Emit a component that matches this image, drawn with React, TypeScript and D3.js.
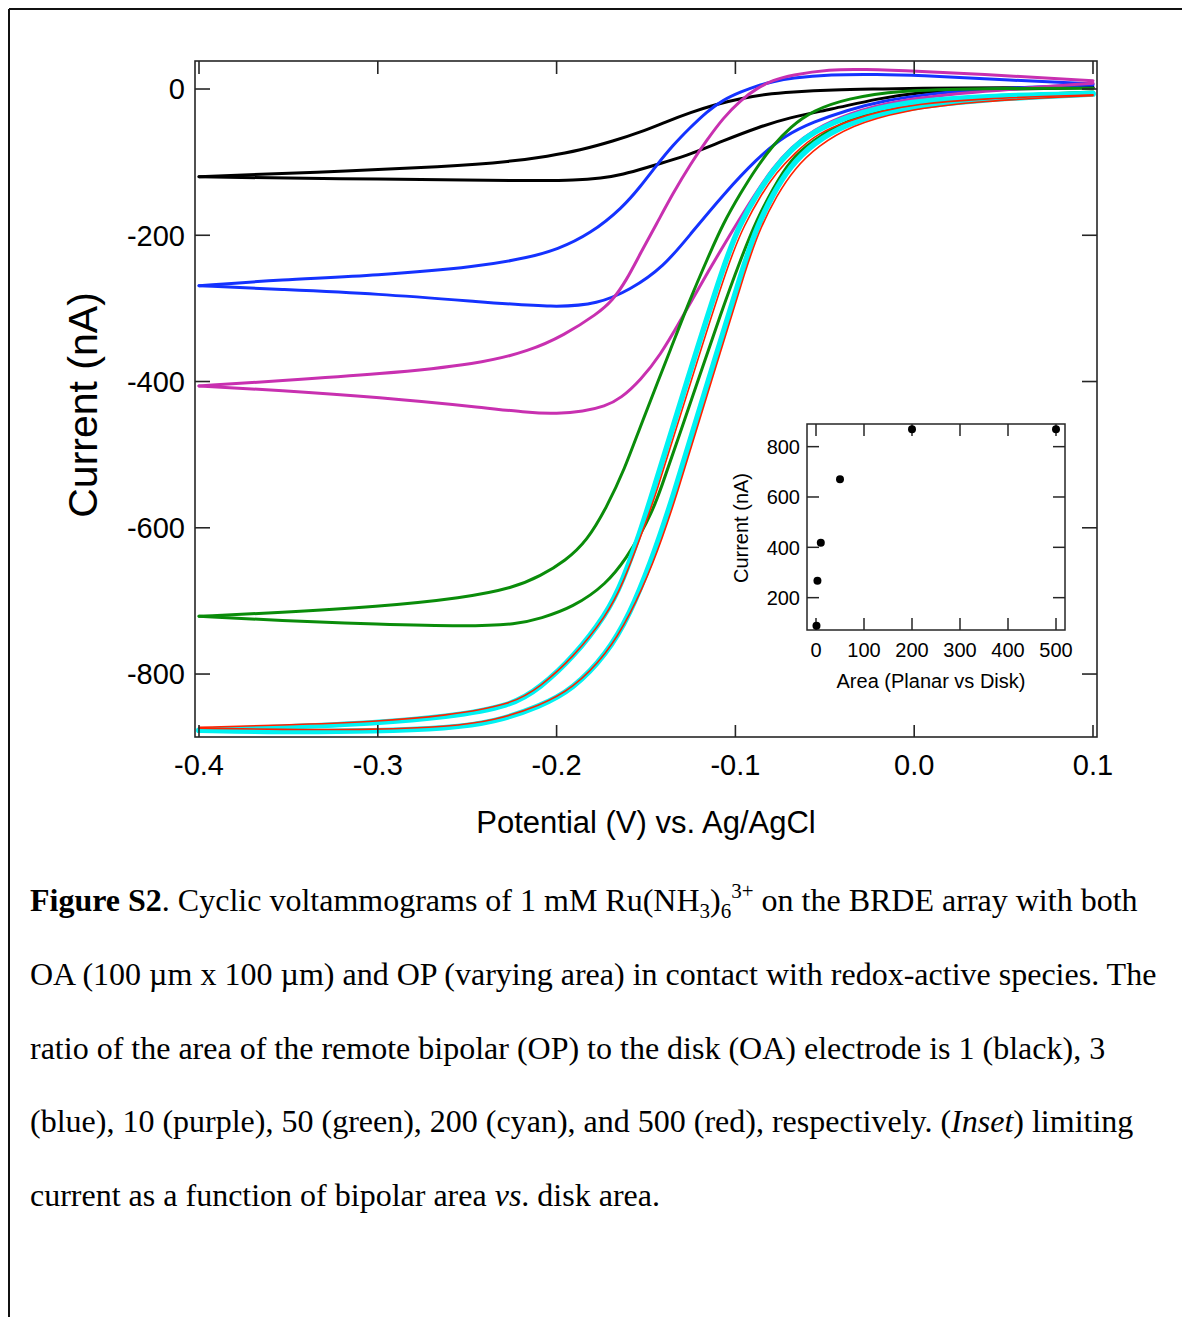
import React from "react";
import * as d3 from "d3";

type Pt = [number, number];

// ---- main axes ----
const potentialTicks = [-0.4, -0.3, -0.2, -0.1, 0.0, 0.1];
const potentialTickLabels = ["-0.4", "-0.3", "-0.2", "-0.1", "0.0", "0.1"];
const currentTicks = [0, -200, -400, -600, -800];
const currentTickLabels = ["0", "-200", "-400", "-600", "-800"];

// ---- CV branches: [potential (V), current (nA)] ----
const blackUpper: Pt[] = [
  [-0.4, -120], [-0.336, -114], [-0.26, -106], [-0.225, -99], [-0.205, -92], [-0.187, -84],
  [-0.168, -71], [-0.153, -59], [-0.139, -45], [-0.125, -32], [-0.111, -21], [-0.097, -13],
  [-0.083, -7], [-0.069, -4], [-0.045, -1], [-0.02, 0], [0, 1], [0.05, 2], [0.1, 2],
];
const blackLower: Pt[] = [
  [-0.4, -120], [-0.35, -122], [-0.3, -123], [-0.25, -124.5], [-0.21, -125.5], [-0.19, -125],
  [-0.175, -122], [-0.163, -117], [-0.149, -107], [-0.138, -99], [-0.125, -89], [-0.107, -71],
  [-0.088, -53], [-0.07, -39], [-0.047, -28], [-0.02, -13], [0, -5], [0.03, -1], [0.1, 2],
];
const blueUpper: Pt[] = [
  [-0.4, -269], [-0.355, -261], [-0.3, -255], [-0.243, -243], [-0.215, -230], [-0.2, -220],
  [-0.181, -198], [-0.163, -162], [-0.153, -133], [-0.144, -104], [-0.135, -77], [-0.125, -52],
  [-0.116, -31], [-0.107, -15], [-0.097, -4], [-0.088, 4.5], [-0.079, 10], [-0.069, 15],
  [-0.047, 20], [-0.02, 20], [0, 19], [0.055, 12], [0.1, 7],
];
const blueLower: Pt[] = [
  [-0.4, -269], [-0.355, -274], [-0.3, -280], [-0.243, -291], [-0.2, -299], [-0.177, -294],
  [-0.159, -275], [-0.14, -243], [-0.125, -198], [-0.107, -145], [-0.088, -95], [-0.072, -63],
  [-0.0565, -45], [-0.0375, -29], [-0.019, -17], [0.009, -6], [0.046, 1], [0.1, 5.5],
];
const purpleUpper: Pt[] = [
  [-0.4, -406], [-0.355, -399], [-0.299, -390], [-0.243, -376], [-0.215, -358], [-0.196, -337],
  [-0.177, -307], [-0.169, -290], [-0.161, -262], [-0.153, -224], [-0.144, -184], [-0.135, -143],
  [-0.125, -102], [-0.116, -70], [-0.107, -40], [-0.097, -15], [-0.088, 1], [-0.079, 12],
  [-0.069, 19], [-0.047, 27], [-0.0285, 27], [0, 24.7], [0.055, 17.8], [0.1, 11.4],
];
const purpleLower: Pt[] = [
  [-0.4, -406], [-0.355, -412], [-0.299, -421.5], [-0.243, -435], [-0.215, -443], [-0.2, -444],
  [-0.185, -441], [-0.173, -434], [-0.164, -423], [-0.153, -398], [-0.142, -364], [-0.131, -318],
  [-0.12, -270], [-0.1086, -222], [-0.097, -175], [-0.088, -140], [-0.079, -108], [-0.069, -80],
  [-0.0565, -56], [-0.0375, -34], [-0.0095, -15], [0.037, -3], [0.1, 8],
];
const greenUpper: Pt[] = [
  [-0.4, -721], [-0.355, -716], [-0.3, -708], [-0.252, -696], [-0.224, -682], [-0.209, -666],
  [-0.195, -645], [-0.183, -618], [-0.172, -572], [-0.162, -520], [-0.1533, -462], [-0.1348, -347],
  [-0.1253, -287], [-0.1158, -233], [-0.1069, -184], [-0.0973, -143], [-0.0878, -106],
  [-0.0789, -77], [-0.0694, -52], [-0.0565, -29], [-0.0375, -13], [-0.0095, -2], [0.037, 1], [0.1, 1],
];
const greenLower: Pt[] = [
  [-0.4, -721], [-0.355, -727], [-0.3, -732], [-0.25, -735], [-0.222, -732], [-0.209, -724],
  [-0.191, -709], [-0.172, -677], [-0.1606, -640], [-0.1533, -610], [-0.147, -580], [-0.1421, -550],
  [-0.1309, -470], [-0.1197, -390], [-0.1086, -310], [-0.0973, -234], [-0.0878, -177],
  [-0.0789, -136], [-0.0694, -97], [-0.0565, -70], [-0.0375, -42], [-0.0095, -22], [0.037, -10], [0.1, -4],
];
const cyanUpper: Pt[] = [
  [-0.4, -877], [-0.355, -873], [-0.3, -867], [-0.262, -859], [-0.225, -844], [-0.209, -818],
  [-0.191, -778], [-0.172, -718], [-0.163, -673], [-0.153, -604], [-0.1477, -563], [-0.127, -399],
  [-0.1057, -234], [-0.0973, -184], [-0.0878, -143], [-0.0789, -111], [-0.0694, -84],
  [-0.0565, -58], [-0.0375, -38], [-0.02, -26], [0, -17], [0.037, -10], [0.1, -6],
];
const cyanLower: Pt[] = [
  [-0.4, -877], [-0.355, -879], [-0.3, -878], [-0.261, -874], [-0.235, -866], [-0.209, -844],
  [-0.191, -821], [-0.172, -773], [-0.159, -718], [-0.1477, -650], [-0.1354, -563], [-0.1152, -399],
  [-0.0945, -234], [-0.0878, -188], [-0.0789, -143], [-0.0694, -106], [-0.0565, -74],
  [-0.0375, -47], [-0.0095, -27], [0.037, -14], [0.1, -7],
];
const redUpper: Pt[] = [
  [-0.4, -873], [-0.355, -870], [-0.3, -865], [-0.262, -857], [-0.225, -842], [-0.209, -817],
  [-0.191, -778], [-0.172, -720], [-0.163, -677], [-0.153, -612], [-0.1455, -563], [-0.1248, -399],
  [-0.1035, -234], [-0.095, -186], [-0.086, -146], [-0.077, -114], [-0.067, -88], [-0.054, -60],
  [-0.035, -42], [-0.018, -30], [0, -21], [0.037, -13], [0.1, -8],
];
const redLower: Pt[] = [
  [-0.4, -874], [-0.355, -876], [-0.3, -876], [-0.261, -872], [-0.235, -864], [-0.209, -843],
  [-0.191, -820], [-0.172, -773], [-0.159, -720], [-0.146, -650], [-0.1336, -563], [-0.1134, -399],
  [-0.0927, -234], [-0.086, -190], [-0.077, -146], [-0.067, -109], [-0.054, -78], [-0.035, -50],
  [-0.008, -30], [0.037, -16], [0.1, -9],
];

// ---- inset: limiting current vs area ratio ----
const insetAreaRatio = [1, 3, 10, 50, 200, 500];
const insetLimitingCurrent = [88, 267, 418, 670, 869, 869];
const insetXTicks = [0, 100, 200, 300, 400, 500];
const insetYTicks = [200, 400, 600, 800];

// ---- caption ----
const captionLine2 = "OA (100 µm x 100 µm) and OP (varying area) in contact with redox-active species. The";
const captionLine3 = "ratio of the area of the remote bipolar (OP) to the disk (OA) electrode is 1 (black), 3";

const SANS = "'Liberation Sans', Arial, Helvetica, sans-serif";
const SERIF = "'Liberation Serif', 'Times New Roman', Times, serif";

const seriesStyles = [
  { upper: blackUpper, lower: blackLower, color: "#000000", width: 3 },
  { upper: blueUpper, lower: blueLower, color: "#1432ff", width: 3 },
  { upper: purpleUpper, lower: purpleLower, color: "#c830b0", width: 3 },
  { upper: greenUpper, lower: greenLower, color: "#0a8c0a", width: 3 },
  { upper: cyanUpper, lower: cyanLower, color: "#00f2f2", width: 5.5 },
  { upper: redUpper, lower: redLower, color: "#ff2200", width: 1.6 },
];

export default function App() {
  const W = 1182;
  const H = 1317;
  const left = 195, right = 1097, top = 61, bottom = 737;
  const x = d3.scaleLinear().domain([-0.40224, 0.10224]).range([left, right]);
  const y = d3.scaleLinear().domain([38.3, -886.1]).range([top, bottom]);
  const line = d3
    .line<Pt>()
    .x((d) => x(d[0]))
    .y((d) => y(d[1]))
    .curve(d3.curveBasis);

  const iL = 807, iR = 1065, iT = 424, iB = 630;
  const ix = d3.scaleLinear().domain([-18.75, 518.75]).range([iL, iR]);
  const iy = d3.scaleLinear().domain([71.5, 890]).range([iB, iT]);

  const axisColor = "#262626";
  const tk = 14;
  const itk = 12;

  return (
    <svg
      width={W}
      height={H}
      viewBox={`0 0 ${W} ${H}`}
      style={{ position: "absolute", left: 0, top: 0, background: "#fff" }}
    >
      <rect x={0} y={0} width={W} height={H} fill="#fff" />
      {/* page frame */}
      <line x1={9} y1={9} x2={W} y2={9} stroke="#111" strokeWidth={2} />
      <line x1={9} y1={9} x2={9} y2={H} stroke="#111" strokeWidth={2} />

      {/* curves */}
      <g fill="none" strokeLinecap="round" strokeLinejoin="round">
        {seriesStyles.map((s, i) => (
          <g key={i} stroke={s.color} strokeWidth={s.width}>
            <path d={line(s.upper) || ""} />
            <path d={line(s.lower) || ""} />
          </g>
        ))}
      </g>

      {/* main frame */}
      <rect x={left} y={top} width={right - left} height={bottom - top} fill="none" stroke={axisColor} strokeWidth={1.6} />
      <g stroke={axisColor} strokeWidth={1.6}>
        {potentialTicks.map((t) => (
          <g key={"xt" + t}>
            <line x1={x(t)} x2={x(t)} y1={bottom} y2={bottom - tk + 2} />
            <line x1={x(t)} x2={x(t)} y1={top} y2={top + tk - 1} />
          </g>
        ))}
        {currentTicks.map((t) => (
          <g key={"yt" + t}>
            <line x1={left} x2={left + tk + 1} y1={y(t)} y2={y(t)} />
            <line x1={right} x2={right - tk - 1} y1={y(t)} y2={y(t)} />
          </g>
        ))}
      </g>
      <g fontFamily={SANS} fontSize={29} fill="#000">
        {potentialTicks.map((t, i) => (
          <text key={"xl" + t} x={x(t)} y={775} textAnchor="middle">
            {potentialTickLabels[i]}
          </text>
        ))}
        {currentTicks.map((t, i) => (
          <text key={"yl" + t} x={185} y={y(t)} dy="0.36em" textAnchor="end">
            {currentTickLabels[i]}
          </text>
        ))}
        <text x={646} y={833} fontSize={31} textAnchor="middle">
          Potential (V) vs. Ag/AgCl
        </text>
        <text transform="translate(97,405) rotate(-90)" fontSize={41} textAnchor="middle">
          Current (nA)
        </text>
      </g>

      {/* inset */}
      <rect x={iL} y={iT} width={iR - iL} height={iB - iT} fill="none" stroke={axisColor} strokeWidth={1.5} />
      <g stroke={axisColor} strokeWidth={1.5}>
        {insetXTicks.map((t) => (
          <g key={"ixt" + t}>
            <line x1={ix(t)} x2={ix(t)} y1={iB} y2={iB - itk} />
            <line x1={ix(t)} x2={ix(t)} y1={iT} y2={iT + itk} />
          </g>
        ))}
        {insetYTicks.map((t) => (
          <g key={"iyt" + t}>
            <line x1={iL} x2={iL + itk} y1={iy(t)} y2={iy(t)} />
            <line x1={iR} x2={iR - itk} y1={iy(t)} y2={iy(t)} />
          </g>
        ))}
      </g>
      <g fill="#000">
        {insetAreaRatio.map((a, i) => (
          <circle key={"pt" + i} cx={ix(a)} cy={iy(insetLimitingCurrent[i])} r={4} />
        ))}
      </g>
      <g fontFamily={SANS} fontSize={20} fill="#000">
        {insetXTicks.map((t) => (
          <text key={"ixl" + t} x={ix(t)} y={657} textAnchor="middle">
            {t}
          </text>
        ))}
        {insetYTicks.map((t) => (
          <text key={"iyl" + t} x={800} y={iy(t)} dy="0.36em" textAnchor="end">
            {t}
          </text>
        ))}
        <text x={931} y={688} textAnchor="middle">
          Area (Planar vs Disk)
        </text>
        <text transform="translate(748,528) rotate(-90)" textAnchor="middle">
          Current (nA)
        </text>
      </g>

      {/* caption */}
      <g fontFamily={SERIF} fontSize={32} fill="#000">
        <text x={30} y={911}>
          <tspan fontWeight="bold">Figure S2</tspan>
          <tspan>. Cyclic voltammograms of 1 mM Ru(NH</tspan>
          <tspan fontSize={21} dy={7}>3</tspan>
          <tspan dy={-7}>)</tspan>
          <tspan fontSize={21} dy={7}>6</tspan>
          <tspan fontSize={21} dy={-20}>3+</tspan>
          <tspan dy={13}> on the BRDE array with both</tspan>
        </text>
        <text x={30} y={985}>{captionLine2}</text>
        <text x={30} y={1059}>{captionLine3}</text>
        <text x={30} y={1132}>
          <tspan>(blue), 10 (purple), 50 (green), 200 (cyan), and 500 (red), respectively. (</tspan>
          <tspan fontStyle="italic">Inset</tspan>
          <tspan>) limiting</tspan>
        </text>
        <text x={30} y={1206}>
          <tspan>current as a function of bipolar area </tspan>
          <tspan fontStyle="italic">vs</tspan>
          <tspan>. disk area.</tspan>
        </text>
      </g>
    </svg>
  );
}
